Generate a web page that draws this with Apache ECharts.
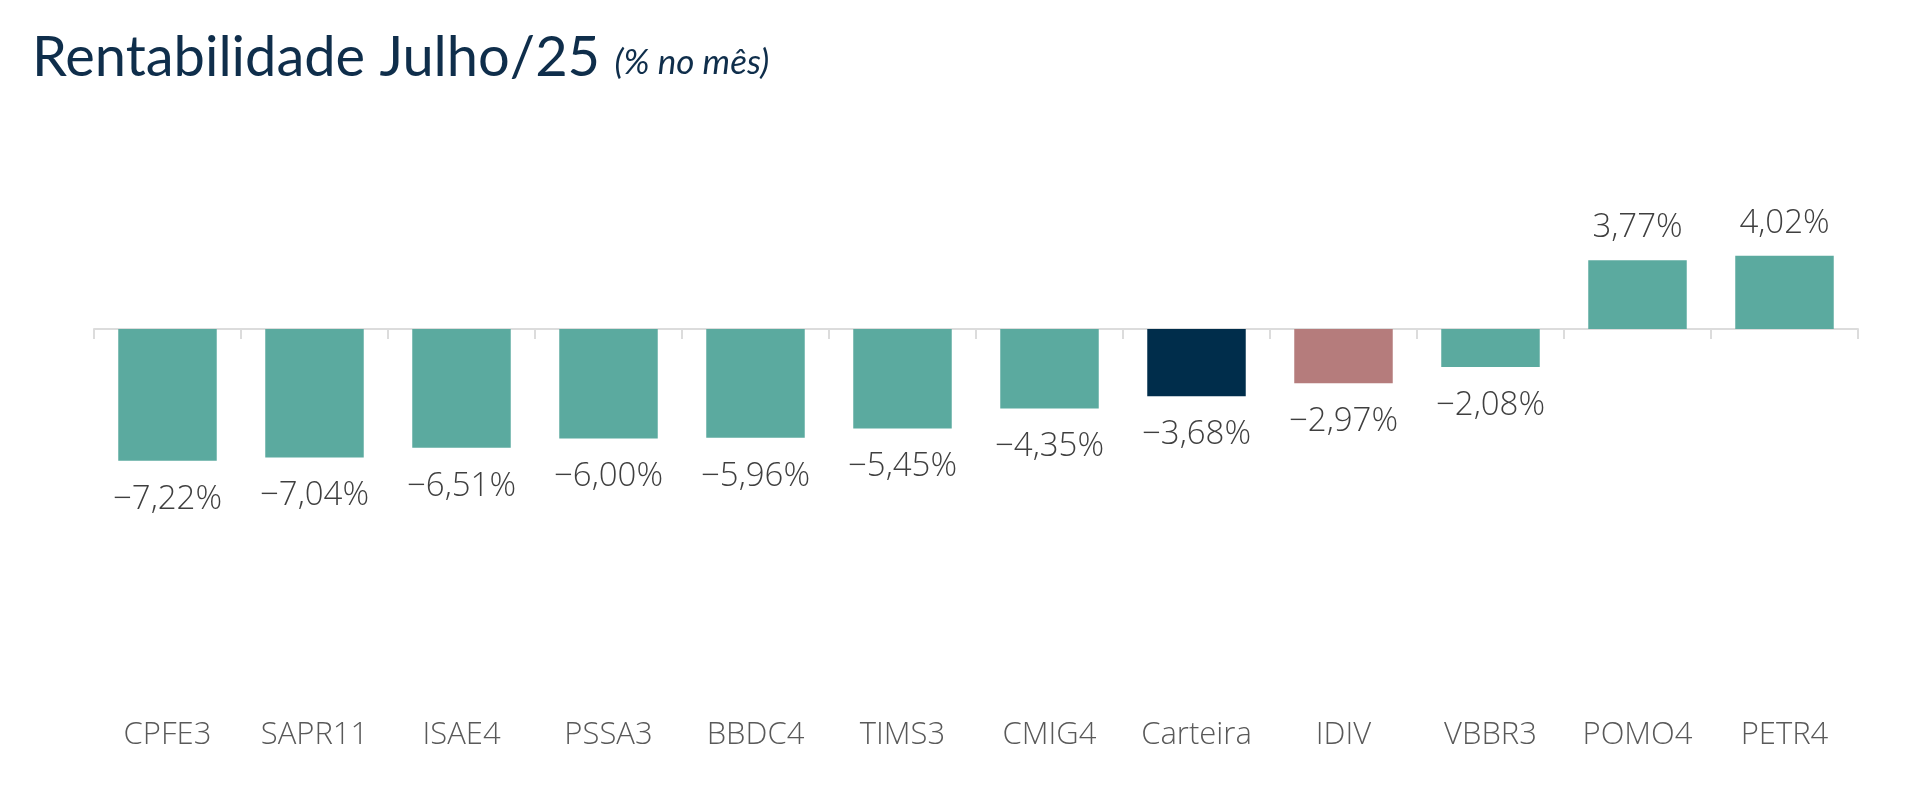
<!DOCTYPE html>
<html>
<head>
<meta charset="utf-8">
<script src="https://cdn.jsdelivr.net/npm/echarts@6/dist/echarts.min.js"></script>
<style>
html, body { margin: 0; padding: 0; background: #fff; }
#main { width: 1920px; height: 788px; }
</style>
</head>
<body>
<div id="main"></div>
<script>
// dados do gráfico
const categories = ['CPFE3', 'SAPR11', 'ISAE4', 'PSSA3', 'BBDC4', 'TIMS3', 'CMIG4', 'Carteira', 'IDIV', 'VBBR3', 'POMO4', 'PETR4'];
const values = [-7.22, -7.04, -6.51, -6.00, -5.96, -5.45, -4.35, -3.68, -2.97, -2.08, 3.77, 4.02];
const highlight = { 'Carteira': '#002d4b', 'IDIV': '#b57c7c' };

const baseColor = '#5baa9f';

let seriesData = values.map((v, i) => {
  let c = highlight[categories[i]] || baseColor;
  return {
    value: v,
    itemStyle: { color: c },
    label: v < 0 ? { position: 'bottom', distance: 22 } : { position: 'top', distance: 16 }
  };
});

let myChart = echarts.init(document.getElementById('main'));

let options = {
  backgroundColor: '#fff',
  animation: false,
  title: {
    left: 27,
    top: 25,
    text: 'Rentabilidade Julho/25 {s|(% no mês)}',
    textStyle: {
      fontFamily: 'Lato',
      fontSize: 56,
      fontWeight: 400,
      color: '#0f2e4b',
      rich: {
        s: { fontFamily: 'Lato', fontSize: 35, fontStyle: 'italic', color: '#0f2e4b', padding: [10, 0, 0, 0] }
      }
    }
  },
  grid: { left: 94, right: 62, top: 183, bottom: 94 },
  xAxis: [
    {
      type: 'category',
      data: categories,
      axisLine: { onZero: true, lineStyle: { color: '#dcdcdc', width: 2 } },
      axisTick: { show: true, length: 10, lineStyle: { color: '#dcdcdc', width: 2 } },
      axisLabel: { show: false }
    },
    {
      type: 'category',
      data: categories,
      position: 'bottom',
      axisLine: { show: false, onZero: false },
      axisTick: { show: false },
      axisLabel: {
        interval: 0,
        margin: 26,
        fontFamily: 'Open Sans',
        fontWeight: 300,
        fontSize: 31,
        color: '#595959'
      }
    }
  ],
  yAxis: {
    type: 'value',
    min: -20,
    max: 8,
    show: false,
    splitLine: { show: false }
  },
  series: [
    {
      type: 'bar',
      xAxisIndex: 0,
      data: seriesData,
      barCategoryGap: '33%',
      label: {
        show: true,
        fontFamily: 'Open Sans',
        fontWeight: 300,
        fontSize: 33,
        color: '#3f3f3f',
        formatter: p => p.value.toFixed(2).replace('.', ',').replace('-', '\u2212') + '%'
      }
    }
  ]
};

myChart.setOption(options);
</script>
</body>
</html>
